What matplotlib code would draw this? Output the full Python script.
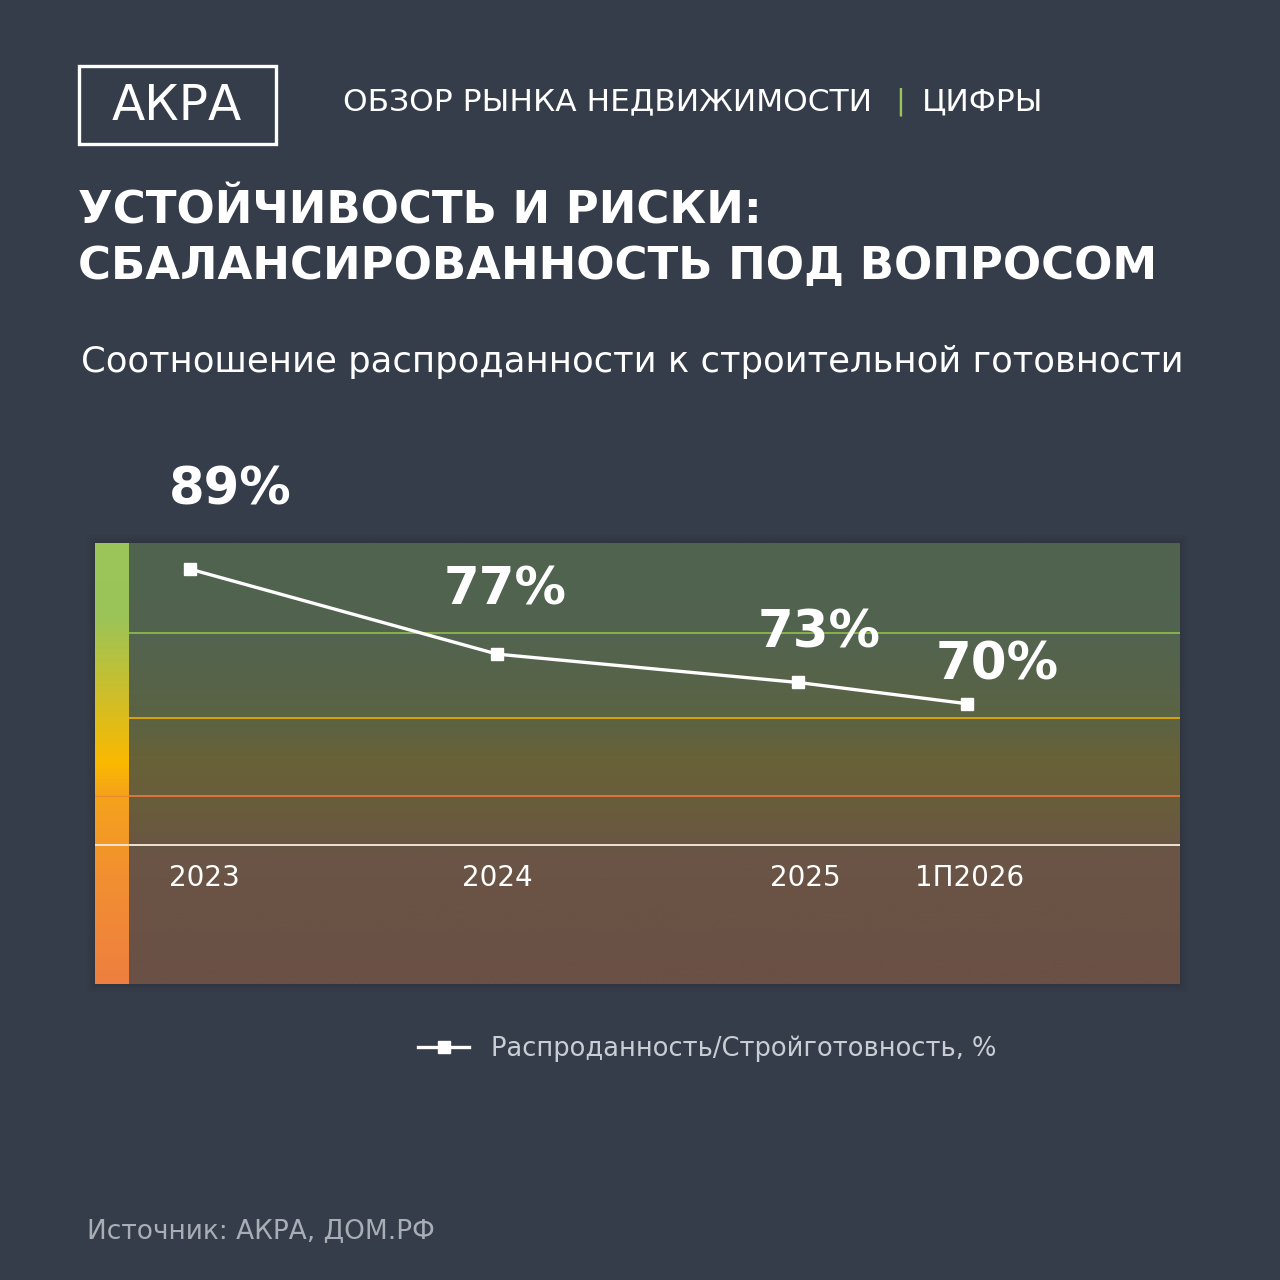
import numpy as np
import matplotlib
matplotlib.use("Agg")
import matplotlib.pyplot as plt
from matplotlib.colors import LinearSegmentedColormap
from matplotlib.patches import Rectangle

# data
periods = ["2023", "2024", "2025", "1П2026"]
period_x = [2023.0, 2024.0, 2024.98, 2025.53]
ratio = [89, 77, 73, 70]
zone_levels = [80, 68, 57]
baseline = 50
series_name = "Распроданность/Стройготовность, %"

BG = "#363d4a"
W = 1280.0
plt.rcParams["font.family"] = ["DejaVu Sans"]

fig = plt.figure(figsize=(12.8, 12.8), dpi=100, facecolor=BG)


def fxy(x, y):
    return x / W, 1 - y / W


def px_axes(x0, y0, x1, y1):
    return fig.add_axes([x0 / W, 1 - y1 / W, (x1 - x0) / W, (y1 - y0) / W])


# soft shadow behind the panel
for i, a in enumerate([0.06, 0.08, 0.10]):
    g = 8 - i * 3
    fig.add_artist(Rectangle(fxy(95 - g, 984 + g), (1085 + 2 * g) / W, (441 + 2 * g) / W,
                             transform=fig.transFigure, color="#1e232b", alpha=a, lw=0,
                             zorder=-5))

# header
fig.add_artist(Rectangle(fxy(79, 144), 197 / W, 78 / W, transform=fig.transFigure,
                         fill=False, ec="white", lw=2.4))
fig.text(*fxy(177, 106), "АКРА", color="white", fontsize=35, ha="center", va="center")
fig.text(*fxy(343, 102), "ОБЗОР РЫНКА НЕДВИЖИМОСТИ", color="white", fontsize=22.5,
         ha="left", va="center")
fig.text(*fxy(900, 102), "|", color="#9bc55a", fontsize=21, ha="center", va="center")
fig.text(*fxy(922, 102), "ЦИФРЫ", color="white", fontsize=22.5, ha="left", va="center")

fig.text(*fxy(78, 211), "УСТОЙЧИВОСТЬ И РИСКИ:", color="white", fontsize=32.4,
         fontweight="bold", ha="left", va="center")
fig.text(*fxy(78, 266), "СБАЛАНСИРОВАННОСТЬ ПОД ВОПРОСОМ", color="white", fontsize=32.4,
         fontweight="bold", ha="left", va="center")
fig.text(*fxy(81, 362), "Соотношение распроданности к строительной готовности",
         color="white", fontsize=25.5, ha="left", va="center")

# chart panel
ylim = (30.4, 92.7)
xlim = (2022.80, 2026.225)

ax = px_axes(129, 543, 1180, 984)
bar = px_axes(95, 543, 129, 984)

panel_cmap = LinearSegmentedColormap.from_list("panel", [
    (0.0, "#4f634f"), (0.2, "#526450"), (0.4, "#5b6343"), (0.49, "#686237"),
    (0.63, "#695b3d"), (0.7, "#6a5545"), (1.0, "#6a5045")])
bar_cmap = LinearSegmentedColormap.from_list("bar", [
    (0.0, "#9bc55a"), (0.17, "#9cc458"), (0.5, "#fbb900"), (0.57, "#f5a31a"),
    (0.75, "#f29030"), (1.0, "#ee7f40")])
grad = np.linspace(0, 1, 256).reshape(-1, 1)

ax.imshow(grad, cmap=panel_cmap, aspect="auto", extent=[*xlim, *ylim], zorder=0)
bar.imshow(grad, cmap=bar_cmap, aspect="auto", extent=[0, 1, *ylim], zorder=0)
ax.set_xlim(*xlim)
ax.set_ylim(*ylim)
bar.set_xlim(0, 1)
bar.set_ylim(*ylim)
for a in (ax, bar):
    a.set_axis_off()

zone_colors = ["#8db94a", "#e8a700", "#e8763a"]
for lvl, c in zip(zone_levels, zone_colors):
    ax.axhline(lvl, color=c, lw=1.3, zorder=1)
bar.axhline(zone_levels[-1], color="#e8763a", lw=1.0, alpha=0.5)
ax.axhline(baseline, color="#ede3d3", lw=1.4, zorder=1)
bar.axhline(baseline, color="#ede3d3", lw=1.4)

ax.plot(period_x, ratio, color="white", lw=2.4, marker="s", ms=9,
        solid_joinstyle="miter", zorder=5, label=series_name)

# value labels (offsets in px)
val_dx = [40, 8, 21, 30]
val_dy = [79, 64, 49, 38]
for x, v, dx, dy in zip(period_x, ratio, val_dx, val_dy):
    ax.annotate(f"{v}%", (x, v), xytext=(dx * 0.72, dy * 0.72), textcoords="offset points",
                ha="center", va="center", color="white", fontsize=37, fontweight="bold",
                annotation_clip=False, zorder=6)

# category labels
lab_dx = [14, 0, 7, 3]
for x, lab, dx in zip(period_x, periods, lab_dx):
    ax.annotate(lab, (x, baseline), xytext=(dx * 0.72, -33 * 0.72), textcoords="offset points",
                ha="center", va="center", color="white", fontsize=20, zorder=6)

# legend
leg = fig.legend(loc="center left", bbox_to_anchor=fxy(418, 1049), frameon=False,
                 fontsize=18.5, labelcolor="#c9cdd4", handlelength=2.0, handletextpad=0.85,
                 borderpad=0, borderaxespad=0, numpoints=1)

fig.text(*fxy(87, 1231), "Источник: АКРА, ДОМ.РФ", color="#a9aeb6", fontsize=19,
         ha="left", va="center")

fig.savefig("out.png", dpi=100, facecolor=BG)
